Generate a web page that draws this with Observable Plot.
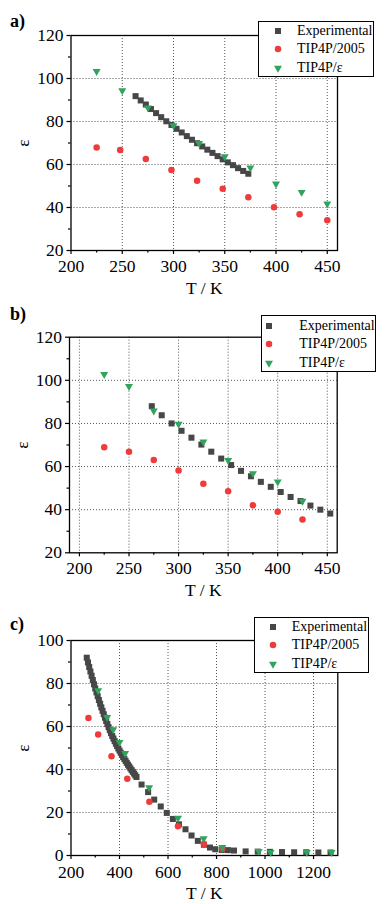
<!DOCTYPE html>
<html><head><meta charset="utf-8">
<script src="https://cdn.jsdelivr.net/npm/d3@7"></script>
<script src="https://cdn.jsdelivr.net/npm/@observablehq/plot@0.6"></script>
<style>
body{margin:0;background:#fff;}
#root{position:relative;width:391px;height:904px;overflow:hidden;font-family:"Liberation Serif","Times New Roman",serif;background:#fff;}
.panel{position:absolute;left:0;}
.panel svg text{font-family:"Liberation Serif","Times New Roman",serif;}
.tag{position:absolute;left:10px;font-weight:bold;font-size:18px;line-height:18px;}
.legend{position:absolute;border:1.3px solid #000;background:#fff;box-sizing:border-box;font-size:14px;}
.row{position:absolute;left:0;right:0;height:18px;line-height:18px;}
.row svg{position:absolute;top:0;}
.row span{position:absolute;top:0;white-space:nowrap;}
</style>
</head><body>
<div id="root"></div>
<script>
// ---------- data ----------
const seriesNames = ["Experimental", "TIP4P/2005", "TIP4P/ε"];
const seriesColors = ["#474747", "#EF3B3B", "#30A35C"];

// panel a
const aExpT = [263,268,273,278,283,288,293,298,303,308,313,318,323,328,333,338,343,348,353,358,363,368,373];
const aExpE = [91.8,89.8,87.9,85.8,83.9,82.0,80.1,78.4,76.6,74.9,73.2,71.5,69.9,68.4,66.9,65.4,63.9,62.4,61.0,59.7,58.3,57.0,55.7];
const a2005T = [225,248,273,298,323,348,373,398,423,450];
const a2005E = [67.9,66.8,62.6,57.5,52.4,48.7,44.8,40.1,36.9,34.1];
const aEpsT = [225,250,275,300,325,350,375,400,425,450];
const aEpsE = [103.3,94.4,86.4,78.1,69.9,63.7,58.5,51.0,47.1,41.7];

// panel b
const bExpT = [273,283,293,303,313,323,333,343,353,363,373,383,393,403,413,423,433,443,453];
const bExpE = [88.0,83.8,80.0,76.6,73.4,70.2,66.9,63.7,60.7,58.0,55.5,52.9,50.6,48.2,45.9,44.0,41.9,40.0,38.2];
const b2005T = [225,250,275,300,325,350,375,400,425];
const b2005E = [68.9,66.9,63.1,58.2,52.0,48.5,42.0,39.0,35.4];
const bEpsT = [225,250,275,300,325,350,375,400,425];
const bEpsE = [102.8,97.2,85.8,79.7,71.5,62.9,56.8,52.9,44.0];

// panel c
const cExpT = [265,270,275,280,285,290,295,300,305,310,315,320,325,330,335,340,345,350,355,360,365,370,375,380,385,390,395,400,405,410,415,420,425,430,435,440,445,450,455,460,465,470,491,518,543,570,595,620,645,672,697,723,748,773,795,822,847,872,920,970,1020,1070,1120,1170,1220,1270];
const cExpE = [92.0,89.8,87.7,85.6,83.6,81.6,79.6,77.7,75.9,74.1,72.3,70.6,68.9,67.3,65.7,64.1,62.6,61.1,59.7,58.3,56.9,55.6,54.4,53.2,52.0,50.9,49.8,48.8,47.8,46.8,45.8,44.9,44.0,43.1,42.2,41.4,40.5,39.7,38.9,38.1,37.3,36.5,33.0,29.5,26.0,22.8,19.8,17.0,14.5,12.2,9.3,6.8,5.0,3.7,2.9,2.6,2.5,2.3,1.9,1.8,1.7,1.6,1.5,1.5,1.4,1.4];
const c2005T = [272,312,367,432,523,641,748,824];
const c2005E = [64.0,56.3,46.2,35.7,25.0,13.6,5.3,3.1];
const cEpsT = [312,349,374,400,423,522,641,747,824,974,1023,1172,1274];
const cEpsE = [76.7,64.3,58.6,52.7,47.5,31.6,17.4,7.9,3.8,2.0,1.5,1.5,1.5];

// axis ticks
const aXTicks = [200,250,300,350,400,450];
const aXMinor = [225,275,325,375,425];
const aXGrid = [250,300,350,400,450];
const abYTicks = [20,40,60,80,100,120];
const abYMinor = [30,50,70,90,110];
const abYGrid = [40,60,80,100];
const bXTicks = [200,250,300,350,400,450];
const bXMinor = [225,275,325,375,425];
const bXGrid = [200,250,300,350,400,450];
const cXTicks = [200,400,600,800,1000,1200];
const cXMinor = [300,500,700,900,1100];
const cXGrid = [400,600,800,1000,1200];
const cYTicks = [0,20,40,60,80,100];
const cYMinor = [10,30,50,70,90];
const cYGrid = [20,40,60,80];

// ---------- symbols ----------
const triangleDown = {
  draw(context, size) {
    const w = Math.sqrt(size) * 1.25, h = w * 0.87;
    context.moveTo(-w / 2, -h / 3);
    context.lineTo(w / 2, -h / 3);
    context.lineTo(0, 2 * h / 3);
    context.closePath();
  }
};
const seriesSymbols = ["square", "circle", triangleDown];
const seriesR = [3.4, 3.25, 3.6];
const serif = '"Liberation Serif", "Times New Roman", serif';

function rows(T, E, s) { return T.map((t, i) => ({T: t, E: E[i], s})); }

function makePanel(cfg) {
  const data = [rows(cfg.expT, cfg.expE, 0), rows(cfg.t2005T, cfg.t2005E, 1), rows(cfg.epsT, cfg.epsE, 2)];
  const grid = {stroke: "#555", strokeOpacity: 1, strokeWidth: 1, strokeDasharray: "1,2"};
  const fmt = d => String(d);
  return Plot.plot({
    width: 391, height: cfg.height,
    marginLeft: cfg.ml, marginRight: cfg.mr, marginTop: cfg.mt, marginBottom: cfg.mb,
    style: {fontFamily: serif, fontSize: "17.5px", color: "#000", background: "transparent", overflow: "visible"},
    x: {domain: cfg.xDomain},
    y: {domain: cfg.yDomain},
    marks: [
      Plot.gridX(cfg.xGrid, grid),
      Plot.gridY(cfg.yGrid, grid),
      Plot.axisX(cfg.xTicks, {tickSize: 4, tickPadding: cfg.xPad, strokeWidth: 1.2, tickFormat: fmt, fontFamily: serif, fontSize: "17.5px",
        label: "T / K", labelAnchor: "center", labelArrow: "none", labelOffset: 43}),
      Plot.axisX(cfg.xMinor, {tickSize: 2.5, strokeWidth: 1.2, tickFormat: () => "", label: null}),
      Plot.axisY(cfg.yTicks, {tickSize: 4, tickPadding: 3.5, strokeWidth: 1.2, tickFormat: fmt, fontFamily: serif, fontSize: "17.5px",
        label: "ε", labelAnchor: "center", labelArrow: "none", labelOffset: 54}),
      Plot.axisY(cfg.yMinor, {tickSize: 2.5, strokeWidth: 1.2, tickFormat: () => "", label: null}),
      Plot.frame({stroke: "#000", strokeWidth: 1.3}),
      ...data.map((d, i) => Plot.dot(d, {x: "T", y: "E", symbol: seriesSymbols[i], r: seriesR[i], fill: seriesColors[i], stroke: "none"}))
    ]
  });
}

function makeLegend(pos) {
  const div = document.createElement("div");
  div.className = "legend";
  Object.assign(div.style, {left: pos.left + "px", top: pos.top + "px", width: pos.w + "px", height: pos.h + "px"});
  seriesNames.forEach((name, i) => {
    const row = document.createElement("div");
    row.className = "row";
    row.style.top = (pos.rows[i] - 9) + "px";
    const svg = d3.create("svg").attr("width", 14).attr("height", 18).style("left", (pos.mx - 7) + "px");
    svg.append("path").attr("transform", "translate(7,9)")
      .attr("d", d3.symbol(i === 0 ? d3.symbolSquare : i === 1 ? d3.symbolCircle : triangleDown, seriesR[i] * seriesR[i] * Math.PI)())
      .attr("fill", seriesColors[i]);
    row.appendChild(svg.node());
    const span = document.createElement("span");
    span.textContent = name;
    span.style.left = pos.tx + "px";
    row.appendChild(span);
    div.appendChild(row);
  });
  return div;
}

const root = document.getElementById("root");
const panels = [
  {top: 0, height: 300, ml: 70.5, mr: 54, mt: 35, mb: 50, xDomain: [200, 460], yDomain: [20, 120], xPad: 5,
   xTicks: aXTicks, xMinor: aXMinor, xGrid: aXGrid, yTicks: abYTicks, yMinor: abYMinor, yGrid: abYGrid,
   expT: aExpT, expE: aExpE, t2005T: a2005T, t2005E: a2005E, epsT: aEpsT, epsE: aEpsE,
   tag: "a)", tagTop: 12,
   legend: {left: 258.3, top: 20.7, w: 116, h: 56, mx: 18.3, tx: 37.7, rows: [9.3, 27.2, 46.3]}},
  {top: 300, height: 300, ml: 69, mr: 54.3, mt: 36.7, mb: 47.7, xDomain: [190, 460], yDomain: [20, 120], xPad: 5,
   xTicks: bXTicks, xMinor: bXMinor, xGrid: bXGrid, yTicks: abYTicks, yMinor: abYMinor, yGrid: abYGrid,
   expT: bExpT, expE: bExpE, t2005T: b2005T, t2005E: b2005E, epsT: bEpsT, epsE: bEpsE,
   tag: "b)", tagTop: 305,
   legend: {left: 260.7, top: 315, w: 115.3, h: 56.7, mx: 7, tx: 37.6, rows: [9.7, 28.2, 47]}},
  {top: 600, height: 304, ml: 70.5, mr: 53.7, mt: 40, mb: 49, xDomain: [200, 1300], yDomain: [0, 100], xPad: 6.5,
   xTicks: cXTicks, xMinor: cXMinor, xGrid: cXGrid, yTicks: cYTicks, yMinor: cYMinor, yGrid: cYGrid,
   expT: cExpT, expE: cExpE, t2005T: c2005T, t2005E: c2005E, epsT: cEpsT, epsE: cEpsE,
   tag: "c)", tagTop: 615,
   legend: {left: 254, top: 617.3, w: 115.3, h: 55.4, mx: 17.7, tx: 36.7, rows: [8.5, 27, 45.5]}}
];
panels.forEach(p => {
  const svg = makePanel(p);
  const wrap = document.createElement("div");
  wrap.className = "panel";
  wrap.style.top = p.top + "px";
  wrap.appendChild(svg);
  root.appendChild(wrap);
  const tag = document.createElement("div");
  tag.className = "tag";
  tag.style.top = p.tagTop + "px";
  tag.textContent = p.tag;
  root.appendChild(tag);
  root.appendChild(makeLegend(p.legend));
});
</script>
</body></html>
